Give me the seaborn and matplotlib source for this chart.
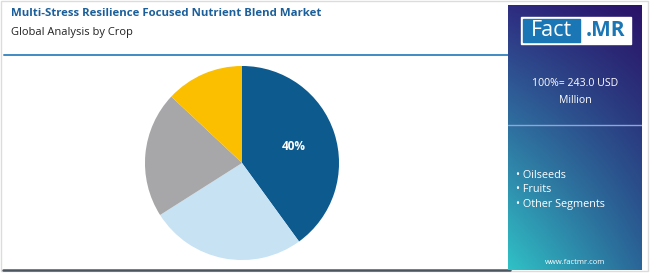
import numpy as np
import matplotlib
matplotlib.use("Agg")
import matplotlib.pyplot as plt
import seaborn as sns
from matplotlib.patches import Rectangle

# datos del grafico
segmentos = ["Vegetables", "Oilseeds", "Fruits", "Other Segments"]
porcentajes = [40, 26, 21, 13]
colores = ["#0d5a8f", "#c6e2f3", "#a7a6a8", "#fbbf00"]
leyenda = ["Oilseeds", "Fruits", "Other Segments"]
titulo = "Multi-Stress Resilience Focused Nutrient Blend Market"
subtitulo = "Global Analysis by Crop"
total_txt = "100%= 243.0 USD\nMillion"

sns.set_theme(style="white")
plt.rcParams["font.family"] = ["Open Sans", "DejaVu Sans"]

W, H = 650, 273
fig = plt.figure(figsize=(W / 100, H / 100), dpi=100)
fig.patch.set_facecolor("white")

def px(x, y, w, h):
    # caja en pixeles (origen arriba-izquierda) -> coords de figura
    return [x / W, 1 - (y + h) / H, w / W, h / H]

# marco y lineas de fondo
fondo = fig.add_axes([0, 0, 1, 1])
fondo.set_xlim(0, W)
fondo.set_ylim(H, 0)
fondo.axis("off")
fondo.add_patch(Rectangle((1, 1), W - 3, H - 3, fill=False, ec="#dcdcdc", lw=1))
fondo.plot([4, 508], [54.5, 54.5], color="#3f8ac4", lw=1.4)
fondo.plot([3, 510], [269.5, 269.5], color="#4a5560", lw=1.8)

# titulos
fig.text(11 / W, 1 - 14 / H, titulo, fontsize=8.2, fontweight="bold",
         color="#1b5f9a", va="center", ha="left")
fig.text(11 / W, 1 - 32 / H, subtitulo, fontsize=8.0, color="#222222",
         va="center", ha="left")

# pastel
ax = fig.add_axes(px(144, 65, 196, 196))
def etiqueta(p):
    return f"{p:.0f}%" if p >= 35 else ""
ax.pie(porcentajes, colors=colores, startangle=90, counterclock=False,
       radius=0.99, autopct=etiqueta, pctdistance=0.56,
       textprops=dict(color="white", fontsize=8.5, fontweight="bold"),
       wedgeprops=dict(linewidth=0))
ax.set_xlim(-1, 1)
ax.set_ylim(-1, 1)
ax.set_aspect("equal")
ax.axis("off")

# panel lateral con degradado
panel = fig.add_axes(px(508, 5, 134, 265))
yy, xx = np.mgrid[0:1:200j, 0:1:100j]
c_tl = np.array([0x2e, 0x2c, 0x80]) / 255
c_tr = np.array([0x2a, 0x12, 0x68]) / 255
c_bl = np.array([0x30, 0xc2, 0xc6]) / 255
c_br = np.array([0x2a, 0x66, 0x98]) / 255
img = ((1 - xx)[..., None] * (1 - yy)[..., None] * c_tl
       + xx[..., None] * (1 - yy)[..., None] * c_tr
       + (1 - xx)[..., None] * yy[..., None] * c_bl
       + xx[..., None] * yy[..., None] * c_br)
panel.imshow(img, extent=[0, 134, 265, 0], aspect="auto")
panel.set_xlim(0, 134)
panel.set_ylim(265, 0)
panel.axis("off")

# logo
panel.add_patch(Rectangle((13, 12), 110, 27, color="white"))
panel.add_patch(Rectangle((15, 14), 57, 23, color="#1a76b4"))
panel.text(43.5, 25.5, "Fact", color="white", fontsize=15.5, ha="center", va="center")
panel.text(97.5, 25.5, ".MR", color="#1a76b4", fontsize=15, fontweight="bold",
           ha="center", va="center")

panel.text(67, 87, total_txt, color="white", fontsize=7.6, ha="center",
           va="center", linespacing=1.7)
panel.plot([0, 134], [120, 120], color="#8fa6d6", lw=1)

for i, nombre in enumerate(leyenda):
    panel.text(8, 171 + i * 14, "• " + nombre, color="white", fontsize=7.8,
               ha="left", va="center")

panel.text(67, 258, "www.factmr.com", color="white", fontsize=5.5,
           ha="center", va="center")

fig.savefig("out.png", dpi=100, facecolor="white")
